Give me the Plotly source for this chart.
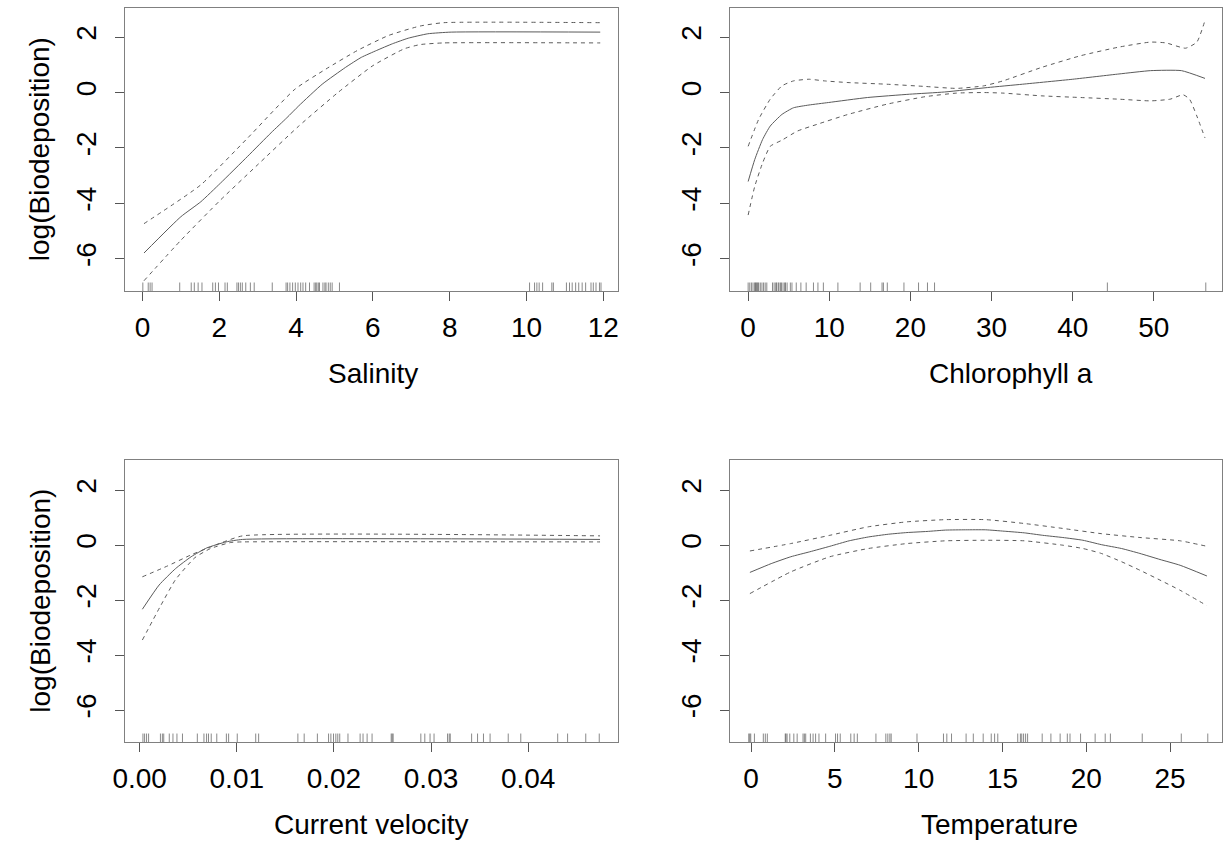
import plotly.graph_objects as go

# ---------------- data ----------------
# Salinity panel
sal_fit_x = [0.04, 1.0, 1.52, 2.03, 2.74, 3.35, 3.76, 4.07, 4.68, 5.29, 5.7, 6.1, 6.51, 6.92, 7.43, 8.04, 11.92]
sal_fit_y = [-5.79, -4.48, -3.94, -3.27, -2.3, -1.45, -0.91, -0.48, 0.3, 0.91, 1.27, 1.52, 1.76, 1.96, 2.12, 2.18, 2.18]
sal_up_x = [0.04, 1.52, 2.74, 3.97, 4.78, 5.6, 6.41, 7.23, 7.84, 11.92]
sal_up_y = [-4.73, -3.33, -1.64, 0.12, 0.85, 1.52, 2.06, 2.4, 2.52, 2.52]
sal_lo_x = [0.04, 1.0, 2.03, 2.95, 4.07, 5.09, 6.0, 6.82, 7.23, 7.84, 11.92]
sal_lo_y = [-6.79, -5.33, -3.88, -2.67, -1.21, 0.0, 0.97, 1.58, 1.73, 1.79, 1.79]
sal_rug = [0.01, 0.15, 0.2, 0.25, 0.97, 1.27, 1.35, 1.45, 1.55, 1.83, 1.9, 1.98, 2.15, 2.21,
           2.46, 2.5, 2.55, 2.6, 2.69, 2.81, 2.91, 3.38, 3.74, 3.78, 3.84, 3.91, 3.98, 4.05,
           4.12, 4.18, 4.25, 4.35, 4.47, 4.51, 4.54, 4.58, 4.61, 4.7, 4.75, 4.78, 4.84, 4.89,
           4.94, 5.13, 10.08, 10.21, 10.27, 10.33, 10.42, 10.66, 10.7, 11.04, 11.12, 11.19,
           11.28, 11.36, 11.45, 11.54, 11.68, 11.74, 11.81, 11.9, 11.94]

# Chlorophyll a panel
chl_fit_x = [0, 0.81, 1.77, 2.72, 4.16, 5.59, 7.5, 9.9, 14.7, 19.9, 24.2, 29.5, 33.8, 40, 45.7, 49.6, 53.4, 56.3]
chl_fit_y = [-3.21, -2.42, -1.7, -1.21, -0.79, -0.55, -0.45, -0.36, -0.18, -0.06, 0.02, 0.18, 0.3, 0.48, 0.67, 0.79, 0.79, 0.51]
chl_up_x = [0, 1.29, 2.72, 4.16, 5.59, 7.5, 9.4, 12.3, 17.1, 21.8, 25.7, 29, 31.4, 36.2, 41, 45.7, 49.6, 51.5, 53.9, 55.3, 56.3]
chl_up_y = [-1.94, -0.97, -0.24, 0.24, 0.42, 0.48, 0.42, 0.36, 0.3, 0.22, 0.15, 0.24, 0.42, 0.91, 1.33, 1.64, 1.82, 1.79, 1.6, 1.82, 2.6]
chl_lo_x = [0, 0.81, 1.77, 2.72, 4.16, 6.07, 8.46, 12.3, 17.1, 21.8, 25.7, 29, 31.4, 36.2, 41, 45.7, 49.6, 52, 53.6, 54.4, 55.3, 56.3]
chl_lo_y = [-4.42, -3.39, -2.55, -1.94, -1.72, -1.39, -1.15, -0.79, -0.42, -0.15, -0.02, 0.0, -0.02, -0.12, -0.18, -0.24, -0.3, -0.24, -0.08, -0.24, -0.85, -1.64]
chl_rug = [0, 0.2, 0.4, 0.6, 0.8, 0.9, 1.0, 1.1, 1.2, 1.3, 1.5, 1.7, 1.9, 2.1, 2.3, 3.0, 3.2,
           3.4, 3.5, 3.7, 3.8, 4.0, 4.1, 4.3, 4.5, 4.6, 4.8, 5.2, 5.4, 5.93, 6.5, 7.15, 8.05,
           8.6, 9.27, 11.06, 13.8, 15.1, 16.5, 16.67, 17.15, 19.2, 21.0, 22.1, 22.97, 44.27, 56.4]

# Current velocity panel
cur_fit_x = [0.00028, 0.002, 0.0037, 0.0053, 0.0069, 0.0089, 0.0106, 0.0474]
cur_fit_y = [-2.33, -1.45, -0.85, -0.42, -0.1, 0.12, 0.21, 0.21]
cur_up_x = [0.00028, 0.0029, 0.0053, 0.0069, 0.0085, 0.0106, 0.0474]
cur_up_y = [-1.15, -0.75, -0.35, -0.12, 0.1, 0.34, 0.34]
cur_lo_x = [0.00028, 0.0021, 0.0037, 0.0057, 0.0073, 0.0094, 0.0106, 0.0474]
cur_lo_y = [-3.45, -2.24, -1.25, -0.45, -0.12, 0.1, 0.12, 0.12]
cur_rug = [0.00034, 0.00051, 0.00071, 0.00092, 0.00214, 0.00234, 0.00248, 0.00305, 0.00343,
           0.00384, 0.00441, 0.00594, 0.00662, 0.00689, 0.00709, 0.00737, 0.00794, 0.00893,
           0.00916, 0.01005, 0.01195, 0.01225, 0.01629, 0.01694, 0.0183, 0.01945, 0.01969,
           0.01996, 0.0202, 0.0204, 0.0206, 0.02145, 0.0227, 0.023, 0.02342, 0.02393, 0.0259,
           0.026, 0.0261, 0.02895, 0.02936, 0.0299, 0.03031, 0.0317, 0.03187, 0.03198, 0.03418,
           0.03479, 0.0354, 0.03608, 0.03795, 0.03924, 0.04304, 0.04406, 0.04593, 0.04732]

# Temperature panel
tem_fit_x = [-0.07, 1.2, 2.37, 3.5, 4.7, 5.85, 7.0, 8.2, 9.3, 10.5, 11.6, 12.8, 14.0, 15.1, 16.3,
             17.4, 18.6, 19.8, 20.9, 22.1, 23.2, 24.4, 25.6, 27.2]
tem_fit_y = [-0.99, -0.67, -0.42, -0.24, -0.04, 0.16, 0.3, 0.4, 0.46, 0.5, 0.55, 0.56, 0.56, 0.51,
             0.45, 0.36, 0.28, 0.18, 0.02, -0.12, -0.3, -0.52, -0.73, -1.12]
tem_up_x = [-0.07, 2.37, 4.7, 7.0, 9.3, 11.6, 14.0, 16.3, 18.6, 20.9, 23.2, 25.6, 27.2]
tem_up_y = [-0.21, 0.06, 0.36, 0.67, 0.85, 0.93, 0.93, 0.79, 0.61, 0.42, 0.28, 0.16, -0.04]
tem_lo_x = [-0.07, 2.37, 4.7, 7.0, 9.3, 11.6, 14.0, 16.3, 18.6, 19.8, 20.9, 22.1, 23.2, 24.4, 25.6, 27.2]
tem_lo_y = [-1.76, -0.97, -0.42, -0.12, 0.06, 0.16, 0.18, 0.16, 0.0, -0.12, -0.3, -0.6, -0.91, -1.27, -1.64, -2.2]
tem_rug = [-0.14, -0.08, -0.02, 0.2, 0.73, 0.85, 0.97, 2.04, 2.08, 2.15, 2.31, 2.55, 2.75, 3.1,
           3.18, 3.26, 3.54, 3.7, 3.85, 4.05, 4.45, 5.04, 5.16, 5.32, 5.95, 6.15, 6.34, 7.45,
           8.04, 8.16, 8.28, 8.36, 9.9, 11.48, 11.68, 11.96, 12.83, 13.26, 13.85, 14.33, 14.53,
           14.72, 15.91, 16.07, 16.15, 16.26, 16.38, 16.5, 17.37, 17.89, 18.44, 18.87, 19.03,
           19.66, 20.53, 21.13, 21.44, 23.34, 25.67, 27.25]

x_titles = ["Salinity", "Chlorophyll a", "Current velocity", "Temperature"]
y_title = "log(Biodeposition)"
x_ticks = [[0, 2, 4, 6, 8, 10, 12], [0, 10, 20, 30, 40, 50],
           [0.0, 0.01, 0.02, 0.03, 0.04], [0, 5, 10, 15, 20, 25]]
x_ticktext = [["0", "2", "4", "6", "8", "10", "12"], ["0", "10", "20", "30", "40", "50"],
              ["0.00", "0.01", "0.02", "0.03", "0.04"], ["0", "5", "10", "15", "20", "25"]]
y_ticks = [-6, -4, -2, 0, 2]

# ---------------- layout ----------------
W, H = 1225, 843
FONT = "Liberation Sans, Arial, Helvetica, sans-serif"
TICKC = "#555555"
BOXC = "#808080"
FS = 28

panels = [
    dict(fit=(sal_fit_x, sal_fit_y), up=(sal_up_x, sal_up_y), lo=(sal_lo_x, sal_lo_y), rug=sal_rug,
         xr=[-0.46, 12.37], yr=[-7.16, 3.05], box=(114, 612, 8, 291), tx=365),
    dict(fit=(chl_fit_x, chl_fit_y), up=(chl_up_x, chl_up_y), lo=(chl_lo_x, chl_lo_y), rug=chl_rug,
         xr=[-2.2, 58.4], yr=[-7.16, 3.05], box=(726, 1223, 8, 291), tx=1010),
    dict(fit=(cur_fit_x, cur_fit_y), up=(cur_up_x, cur_up_y), lo=(cur_lo_x, cur_lo_y), rug=cur_rug,
         xr=[-0.00153, 0.0492], yr=[-7.16, 3.1], box=(114, 612, 460, 742), tx=363),
    dict(fit=(tem_fit_x, tem_fit_y), up=(tem_up_x, tem_up_y), lo=(tem_lo_x, tem_lo_y), rug=tem_rug,
         xr=[-1.24, 28.1], yr=[-7.16, 3.1], box=(726, 1223, 460, 742), tx=998),
]

fig = go.Figure()
layout = dict(width=W, height=H, margin=dict(l=0, r=0, t=0, b=0),
              paper_bgcolor="white", plot_bgcolor="white", showlegend=False,
              font=dict(family=FONT, color="black"))
annotations = []

for i, p in enumerate(panels):
    n = "" if i == 0 else str(i + 1)
    xa, ya = "x" + n, "y" + n
    l, r, t, b = p["box"]
    layout["xaxis" + n] = dict(
        domain=[l / W, r / W], range=p["xr"], anchor=ya,
        tickvals=x_ticks[i], ticktext=x_ticktext[i], ticks="outside", ticklen=9,
        tickcolor=TICKC, tickwidth=1, showline=True, mirror=True, linecolor=BOXC,
        linewidth=1, showgrid=False, zeroline=False, tickfont=dict(size=FS, family=FONT),
        ticklabelstandoff=2)
    layout["yaxis" + n] = dict(
        domain=[1 - b / H, 1 - t / H], range=p["yr"], anchor=xa,
        tickvals=y_ticks, ticktext=[str(v) for v in y_ticks], tickangle=-90,
        ticks="outside", ticklen=9, tickcolor=TICKC, tickwidth=1, showline=True,
        mirror=True, linecolor=BOXC, linewidth=1, showgrid=False, zeroline=False,
        tickfont=dict(size=FS, family=FONT), ticklabelstandoff=8)

    # rug
    ymin = p["yr"][0]
    rh = (p["yr"][1] - p["yr"][0]) * 0.03
    rx, ry = [], []
    for v in p["rug"]:
        rx += [v, v, None]
        ry += [ymin, ymin + rh, None]
    fig.add_trace(go.Scatter(x=rx, y=ry, mode="lines", xaxis=xa, yaxis=ya,
                             line=dict(color="rgba(40,40,40,0.55)", width=1), hoverinfo="skip"))
    # curves
    fig.add_trace(go.Scatter(x=p["fit"][0], y=p["fit"][1], mode="lines", xaxis=xa, yaxis=ya,
                             line=dict(color="#5a5a5a", width=1, shape="spline", smoothing=0.5)))
    for key in ("up", "lo"):
        fig.add_trace(go.Scatter(x=p[key][0], y=p[key][1], mode="lines", xaxis=xa, yaxis=ya,
                                 line=dict(color="#5a5a5a", width=1, dash="4px,4px",
                                           shape="spline", smoothing=0.5)))

    annotations.append(dict(text=x_titles[i], x=p["tx"] / W, y=1 - (b + 82) / H, xref="paper",
                            yref="paper", showarrow=False, xanchor="center", yanchor="middle",
                            font=dict(size=FS, family=FONT)))
    if i in (0, 2):
        annotations.append(dict(text=y_title, x=28 / W, y=1 - (t + b) / 2 / H, xref="paper",
                                yref="paper", showarrow=False, textangle=-90,
                                xanchor="center", yanchor="middle",
                                font=dict(size=FS, family=FONT)))

layout["annotations"] = annotations
fig.update_layout(**layout)
fig.write_html("out.html", config={"displayModeBar": False},
               post_script="document.body.style.margin='0';document.body.style.overflow='hidden';")
